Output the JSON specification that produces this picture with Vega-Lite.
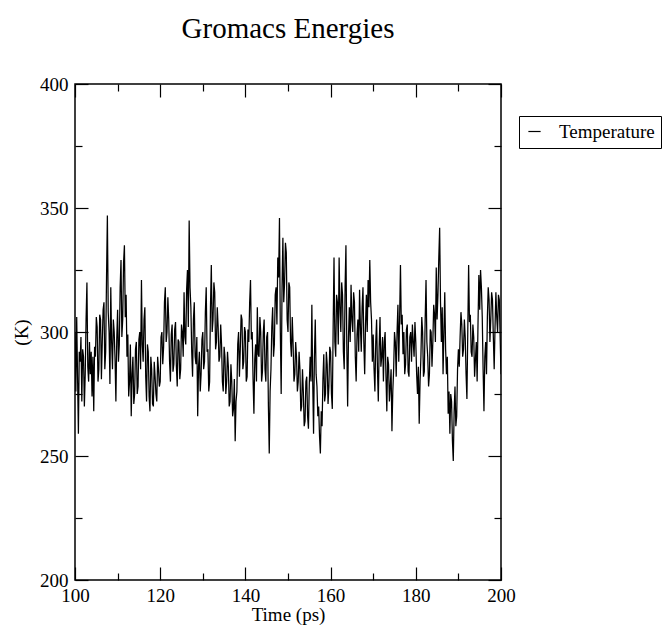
{
  "$schema": "https://vega.github.io/schema/vega-lite/v6.json",
  "width": 426,
  "height": 496,
  "autosize": "none",
  "padding": {"left": 75, "top": 84, "right": 165, "bottom": 51},
  "background": "white",
  "title": {"text": "Gromacs Energies", "font": "Liberation Serif", "fontSize": 29, "fontWeight": "normal", "color": "black", "anchor": "middle", "frame": "group", "offset": 31},
  "config": {
    "view": {"stroke": "black", "strokeWidth": 1.5},
    "axis": {"domain": false, "grid": false, "tickColor": "black", "tickWidth": 1.2, "labelFont": "Liberation Serif", "labelFontSize": 19, "labelColor": "black", "titleFont": "Liberation Serif", "titleFontSize": 19, "titleFontWeight": "normal", "titleColor": "black"}
  },
  "data": {"values": [
    {"t":100.0,"v":300},{"t":100.2,"v":276},{"t":100.4,"v":306},{"t":100.6,"v":282},{"t":100.8,"v":259},{"t":101.0,"v":292},{"t":101.2,"v":288},{"t":101.4,"v":298},{"t":101.6,"v":272},{"t":101.8,"v":293},
    {"t":102.0,"v":290},{"t":102.2,"v":270},{"t":102.4,"v":283},{"t":102.6,"v":305},{"t":102.8,"v":320},{"t":103.0,"v":286},{"t":103.2,"v":280},{"t":103.4,"v":296},{"t":103.6,"v":283},{"t":103.8,"v":292},
    {"t":104.0,"v":274},{"t":104.2,"v":290},{"t":104.4,"v":268},{"t":104.6,"v":294},{"t":104.8,"v":290},{"t":105.0,"v":306},{"t":105.2,"v":302},{"t":105.4,"v":280},{"t":105.6,"v":285},{"t":105.8,"v":307},
    {"t":106.0,"v":305},{"t":106.2,"v":281},{"t":106.4,"v":296},{"t":106.6,"v":309},{"t":106.8,"v":312},{"t":107.0,"v":285},{"t":107.2,"v":292},{"t":107.4,"v":322},{"t":107.6,"v":347},{"t":107.8,"v":308},
    {"t":108.0,"v":300},{"t":108.2,"v":279},{"t":108.4,"v":318},{"t":108.6,"v":296},{"t":108.8,"v":285},{"t":109.0,"v":305},{"t":109.2,"v":300},{"t":109.4,"v":289},{"t":109.6,"v":272},{"t":109.8,"v":297},
    {"t":110.0,"v":309},{"t":110.2,"v":288},{"t":110.4,"v":295},{"t":110.6,"v":318},{"t":110.8,"v":329},{"t":111.0,"v":298},{"t":111.2,"v":305},{"t":111.4,"v":328},{"t":111.6,"v":335},{"t":111.8,"v":306},
    {"t":112.0,"v":315},{"t":112.2,"v":290},{"t":112.4,"v":299},{"t":112.6,"v":274},{"t":112.8,"v":280},{"t":113.0,"v":295},{"t":113.2,"v":266},{"t":113.4,"v":283},{"t":113.6,"v":290},{"t":113.8,"v":271},
    {"t":114.0,"v":275},{"t":114.2,"v":293},{"t":114.4,"v":296},{"t":114.6,"v":275},{"t":114.8,"v":278},{"t":115.0,"v":297},{"t":115.2,"v":300},{"t":115.4,"v":285},{"t":115.6,"v":321},{"t":115.8,"v":295},
    {"t":116.0,"v":288},{"t":116.2,"v":305},{"t":116.4,"v":310},{"t":116.6,"v":282},{"t":116.8,"v":272},{"t":117.0,"v":295},{"t":117.2,"v":292},{"t":117.4,"v":274},{"t":117.6,"v":268},{"t":117.8,"v":290},
    {"t":118.0,"v":285},{"t":118.2,"v":271},{"t":118.4,"v":270},{"t":118.6,"v":288},{"t":118.8,"v":282},{"t":119.0,"v":275},{"t":119.2,"v":272},{"t":119.4,"v":290},{"t":119.6,"v":285},{"t":119.8,"v":278},
    {"t":120.0,"v":280},{"t":120.2,"v":298},{"t":120.4,"v":300},{"t":120.6,"v":287},{"t":120.8,"v":294},{"t":121.0,"v":312},{"t":121.2,"v":318},{"t":121.4,"v":296},{"t":121.6,"v":300},{"t":121.8,"v":314},
    {"t":122.0,"v":305},{"t":122.2,"v":288},{"t":122.4,"v":280},{"t":122.6,"v":299},{"t":122.8,"v":303},{"t":123.0,"v":284},{"t":123.2,"v":287},{"t":123.4,"v":301},{"t":123.6,"v":304},{"t":123.8,"v":286},
    {"t":124.0,"v":278},{"t":124.2,"v":297},{"t":124.4,"v":296},{"t":124.6,"v":281},{"t":124.8,"v":285},{"t":125.0,"v":303},{"t":125.2,"v":300},{"t":125.4,"v":290},{"t":125.6,"v":316},{"t":125.8,"v":298},
    {"t":126.0,"v":295},{"t":126.2,"v":317},{"t":126.4,"v":325},{"t":126.6,"v":302},{"t":126.8,"v":345},{"t":127.0,"v":318},{"t":127.2,"v":310},{"t":127.4,"v":292},{"t":127.6,"v":282},{"t":127.8,"v":305},
    {"t":128.0,"v":312},{"t":128.2,"v":290},{"t":128.4,"v":287},{"t":128.6,"v":298},{"t":128.8,"v":266},{"t":129.0,"v":286},{"t":129.2,"v":292},{"t":129.4,"v":276},{"t":129.6,"v":283},{"t":129.8,"v":297},
    {"t":130.0,"v":300},{"t":130.2,"v":285},{"t":130.4,"v":288},{"t":130.6,"v":308},{"t":130.8,"v":318},{"t":131.0,"v":292},{"t":131.2,"v":293},{"t":131.4,"v":276},{"t":131.6,"v":280},{"t":131.8,"v":310},
    {"t":132.0,"v":327},{"t":132.2,"v":300},{"t":132.4,"v":305},{"t":132.6,"v":320},{"t":132.8,"v":316},{"t":133.0,"v":293},{"t":133.2,"v":296},{"t":133.4,"v":310},{"t":133.6,"v":302},{"t":133.8,"v":288},
    {"t":134.0,"v":290},{"t":134.2,"v":303},{"t":134.4,"v":295},{"t":134.6,"v":280},{"t":134.8,"v":276},{"t":135.0,"v":294},{"t":135.2,"v":290},{"t":135.4,"v":275},{"t":135.6,"v":280},{"t":135.8,"v":292},
    {"t":136.0,"v":286},{"t":136.2,"v":270},{"t":136.4,"v":272},{"t":136.6,"v":287},{"t":136.8,"v":280},{"t":137.0,"v":266},{"t":137.2,"v":269},{"t":137.4,"v":281},{"t":137.6,"v":256},{"t":137.8,"v":272},
    {"t":138.0,"v":276},{"t":138.2,"v":295},{"t":138.4,"v":300},{"t":138.6,"v":282},{"t":138.8,"v":293},{"t":139.0,"v":307},{"t":139.2,"v":305},{"t":139.4,"v":285},{"t":139.6,"v":288},{"t":139.8,"v":302},
    {"t":140.0,"v":300},{"t":140.2,"v":280},{"t":140.4,"v":282},{"t":140.6,"v":301},{"t":140.8,"v":296},{"t":141.0,"v":312},{"t":141.2,"v":321},{"t":141.4,"v":297},{"t":141.6,"v":300},{"t":141.8,"v":281},
    {"t":142.0,"v":267},{"t":142.2,"v":289},{"t":142.4,"v":295},{"t":142.6,"v":280},{"t":142.8,"v":310},{"t":143.0,"v":291},{"t":143.2,"v":290},{"t":143.4,"v":306},{"t":143.6,"v":300},{"t":143.8,"v":280},
    {"t":144.0,"v":284},{"t":144.2,"v":300},{"t":144.4,"v":305},{"t":144.6,"v":285},{"t":144.8,"v":280},{"t":145.0,"v":298},{"t":145.2,"v":300},{"t":145.4,"v":270},{"t":145.6,"v":251},{"t":145.8,"v":276},
    {"t":146.0,"v":285},{"t":146.2,"v":302},{"t":146.4,"v":310},{"t":146.6,"v":290},{"t":146.8,"v":295},{"t":147.0,"v":315},{"t":147.2,"v":318},{"t":147.4,"v":303},{"t":147.6,"v":330},{"t":147.8,"v":322},
    {"t":148.0,"v":346},{"t":148.2,"v":300},{"t":148.4,"v":275},{"t":148.6,"v":318},{"t":148.8,"v":338},{"t":149.0,"v":312},{"t":149.2,"v":320},{"t":149.4,"v":336},{"t":149.6,"v":332},{"t":149.8,"v":305},
    {"t":150.0,"v":300},{"t":150.2,"v":320},{"t":150.4,"v":318},{"t":150.6,"v":296},{"t":150.8,"v":290},{"t":151.0,"v":306},{"t":151.2,"v":295},{"t":151.4,"v":280},{"t":151.6,"v":283},{"t":151.8,"v":296},
    {"t":152.0,"v":290},{"t":152.2,"v":276},{"t":152.4,"v":280},{"t":152.6,"v":292},{"t":152.8,"v":285},{"t":153.0,"v":268},{"t":153.2,"v":270},{"t":153.4,"v":285},{"t":153.6,"v":276},{"t":153.8,"v":262},
    {"t":154.0,"v":264},{"t":154.2,"v":280},{"t":154.4,"v":282},{"t":154.6,"v":266},{"t":154.8,"v":261},{"t":155.0,"v":279},{"t":155.2,"v":290},{"t":155.4,"v":280},{"t":155.6,"v":311},{"t":155.8,"v":280},
    {"t":156.0,"v":259},{"t":156.2,"v":290},{"t":156.4,"v":305},{"t":156.6,"v":283},{"t":156.8,"v":278},{"t":157.0,"v":266},{"t":157.2,"v":270},{"t":157.4,"v":258},{"t":157.6,"v":251},{"t":157.8,"v":268},
    {"t":158.0,"v":262},{"t":158.2,"v":281},{"t":158.4,"v":291},{"t":158.6,"v":272},{"t":158.8,"v":275},{"t":159.0,"v":292},{"t":159.2,"v":287},{"t":159.4,"v":271},{"t":159.6,"v":278},{"t":159.8,"v":294},
    {"t":160.0,"v":292},{"t":160.2,"v":275},{"t":160.4,"v":269},{"t":160.6,"v":302},{"t":160.8,"v":330},{"t":161.0,"v":296},{"t":161.2,"v":290},{"t":161.4,"v":315},{"t":161.6,"v":312},{"t":161.8,"v":295},
    {"t":162.0,"v":330},{"t":162.2,"v":310},{"t":162.4,"v":300},{"t":162.6,"v":320},{"t":162.8,"v":315},{"t":163.0,"v":292},{"t":163.2,"v":285},{"t":163.4,"v":318},{"t":163.6,"v":335},{"t":163.8,"v":295},
    {"t":164.0,"v":270},{"t":164.2,"v":298},{"t":164.4,"v":310},{"t":164.6,"v":296},{"t":164.8,"v":319},{"t":165.0,"v":305},{"t":165.2,"v":300},{"t":165.4,"v":316},{"t":165.6,"v":312},{"t":165.8,"v":290},
    {"t":166.0,"v":280},{"t":166.2,"v":299},{"t":166.4,"v":305},{"t":166.6,"v":292},{"t":166.8,"v":317},{"t":167.0,"v":302},{"t":167.2,"v":292},{"t":167.4,"v":310},{"t":167.6,"v":318},{"t":167.8,"v":296},
    {"t":168.0,"v":283},{"t":168.2,"v":303},{"t":168.4,"v":315},{"t":168.6,"v":300},{"t":168.8,"v":321},{"t":169.0,"v":310},{"t":169.2,"v":329},{"t":169.4,"v":312},{"t":169.6,"v":305},{"t":169.8,"v":288},
    {"t":170.0,"v":299},{"t":170.2,"v":285},{"t":170.4,"v":276},{"t":170.6,"v":296},{"t":170.8,"v":305},{"t":171.0,"v":285},{"t":171.2,"v":272},{"t":171.4,"v":294},{"t":171.6,"v":306},{"t":171.8,"v":286},
    {"t":172.0,"v":290},{"t":172.2,"v":298},{"t":172.4,"v":280},{"t":172.6,"v":296},{"t":172.8,"v":300},{"t":173.0,"v":282},{"t":173.2,"v":268},{"t":173.4,"v":290},{"t":173.6,"v":287},{"t":173.8,"v":272},
    {"t":174.0,"v":278},{"t":174.2,"v":285},{"t":174.4,"v":260},{"t":174.6,"v":276},{"t":174.8,"v":285},{"t":175.0,"v":300},{"t":175.2,"v":296},{"t":175.4,"v":282},{"t":175.6,"v":300},{"t":175.8,"v":311},
    {"t":176.0,"v":288},{"t":176.2,"v":305},{"t":176.4,"v":327},{"t":176.6,"v":303},{"t":176.8,"v":307},{"t":177.0,"v":291},{"t":177.2,"v":300},{"t":177.4,"v":283},{"t":177.6,"v":287},{"t":177.8,"v":301},
    {"t":178.0,"v":303},{"t":178.2,"v":284},{"t":178.4,"v":282},{"t":178.6,"v":298},{"t":178.8,"v":300},{"t":179.0,"v":288},{"t":179.2,"v":303},{"t":179.4,"v":296},{"t":179.6,"v":290},{"t":179.8,"v":304},
    {"t":180.0,"v":296},{"t":180.2,"v":283},{"t":180.4,"v":275},{"t":180.6,"v":286},{"t":180.8,"v":263},{"t":181.0,"v":280},{"t":181.2,"v":290},{"t":181.4,"v":306},{"t":181.6,"v":300},{"t":181.8,"v":282},
    {"t":182.0,"v":284},{"t":182.2,"v":305},{"t":182.4,"v":321},{"t":182.6,"v":296},{"t":182.8,"v":290},{"t":183.0,"v":278},{"t":183.2,"v":283},{"t":183.4,"v":301},{"t":183.6,"v":300},{"t":183.8,"v":286},
    {"t":184.0,"v":296},{"t":184.2,"v":311},{"t":184.4,"v":307},{"t":184.6,"v":296},{"t":184.8,"v":326},{"t":185.0,"v":305},{"t":185.2,"v":315},{"t":185.4,"v":330},{"t":185.6,"v":342},{"t":185.8,"v":312},
    {"t":186.0,"v":296},{"t":186.2,"v":310},{"t":186.4,"v":283},{"t":186.6,"v":300},{"t":186.8,"v":316},{"t":187.0,"v":293},{"t":187.2,"v":283},{"t":187.4,"v":290},{"t":187.6,"v":267},{"t":187.8,"v":276},
    {"t":188.0,"v":259},{"t":188.2,"v":275},{"t":188.4,"v":272},{"t":188.6,"v":256},{"t":188.8,"v":248},{"t":189.0,"v":268},{"t":189.2,"v":278},{"t":189.4,"v":262},{"t":189.6,"v":266},{"t":189.8,"v":285},
    {"t":190.0,"v":293},{"t":190.2,"v":286},{"t":190.4,"v":298},{"t":190.6,"v":308},{"t":190.8,"v":303},{"t":191.0,"v":290},{"t":191.2,"v":293},{"t":191.4,"v":305},{"t":191.6,"v":298},{"t":191.8,"v":283},
    {"t":192.0,"v":273},{"t":192.2,"v":300},{"t":192.4,"v":327},{"t":192.6,"v":304},{"t":192.8,"v":307},{"t":193.0,"v":292},{"t":193.2,"v":290},{"t":193.4,"v":303},{"t":193.6,"v":298},{"t":193.8,"v":282},
    {"t":194.0,"v":289},{"t":194.2,"v":296},{"t":194.4,"v":280},{"t":194.6,"v":303},{"t":194.8,"v":323},{"t":195.0,"v":309},{"t":195.2,"v":325},{"t":195.4,"v":318},{"t":195.6,"v":306},{"t":195.8,"v":285},
    {"t":196.0,"v":268},{"t":196.2,"v":290},{"t":196.4,"v":296},{"t":196.6,"v":283},{"t":196.8,"v":306},{"t":197.0,"v":318},{"t":197.2,"v":313},{"t":197.4,"v":296},{"t":197.6,"v":305},{"t":197.8,"v":316},
    {"t":198.0,"v":313},{"t":198.2,"v":298},{"t":198.4,"v":285},{"t":198.6,"v":302},{"t":198.8,"v":316},{"t":199.0,"v":306},{"t":199.2,"v":300},{"t":199.4,"v":315},{"t":199.6,"v":313},{"t":199.8,"v":298},
    {"t":200.0,"v":283}
  ]},
  "layer": [
    {
      "mark": {"type": "line", "strokeWidth": 1.25, "clip": true},
      "encoding": {
        "x": {"field": "t", "type": "quantitative", "scale": {"domain": [100, 200], "nice": false, "zero": false},
              "axis": {"orient": "bottom", "values": [100, 120, 140, 160, 180, 200], "tickSize": -13, "labelPadding": 19, "title": "Time (ps)", "titlePadding": 0, "labelFlush": false}},
        "y": {"field": "v", "type": "quantitative", "scale": {"domain": [200, 400], "nice": false, "zero": false},
              "axis": {"orient": "left", "values": [200, 250, 300, 350, 400], "tickSize": -13, "labelPadding": 20, "title": "(K)", "titlePadding": 8, "labelFlush": false}},
        "color": {"datum": "Temperature", "scale": {"range": ["black"]},
                  "legend": {"title": null, "orient": "none", "legendX": 444, "legendY": 32, "strokeColor": "black", "padding": 6, "symbolType": "stroke", "symbolSize": 150, "symbolStrokeWidth": 1.2, "symbolOffset": 0, "labelFont": "Liberation Serif", "labelFontSize": 19, "labelColor": "black", "labelOffset": 15}}
      }
    },
    {
      "mark": {"type": "line", "strokeOpacity": 0},
      "encoding": {
        "x": {"field": "t", "type": "quantitative", "axis": {"orient": "bottom", "values": [110, 130, 150, 170, 190], "tickSize": -7, "labels": false, "title": null}},
        "y": {"field": "v", "type": "quantitative", "axis": {"orient": "left", "values": [225, 275, 325, 375], "tickSize": -7, "labels": false, "title": null}}
      }
    },
    {
      "mark": {"type": "line", "strokeOpacity": 0},
      "encoding": {
        "x": {"field": "t", "type": "quantitative", "axis": {"orient": "top", "values": [100, 120, 140, 160, 180, 200], "tickSize": -13, "labels": false, "title": null}},
        "y": {"field": "v", "type": "quantitative", "axis": {"orient": "right", "values": [200, 250, 300, 350, 400], "tickSize": -13, "labels": false, "title": null}}
      }
    },
    {
      "mark": {"type": "line", "strokeOpacity": 0},
      "encoding": {
        "x": {"field": "t", "type": "quantitative", "axis": {"orient": "top", "values": [110, 130, 150, 170, 190], "tickSize": -7, "labels": false, "title": null}},
        "y": {"field": "v", "type": "quantitative", "axis": {"orient": "right", "values": [225, 275, 325, 375], "tickSize": -7, "labels": false, "title": null}}
      }
    }
  ],
  "resolve": {"axis": {"x": "independent", "y": "independent"}}
}
